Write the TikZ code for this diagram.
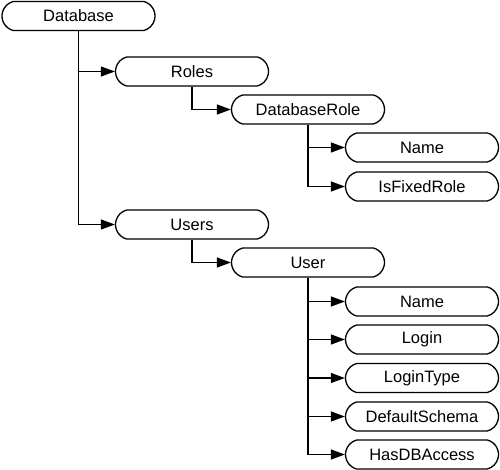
\documentclass[tikz,border=0pt]{standalone}
\usepackage{fontspec}
\setsansfont{Liberation Sans}
\usetikzlibrary{shapes.misc,arrows.meta}

\begin{document}
\begin{tikzpicture}[x=1pt, y=-1pt, font=\sffamily\fontsize{16.5}{18}\selectfont,
    item/.style={draw, line width=1.3pt, rounded rectangle, rounded rectangle arc length=150,
        minimum width=153pt, minimum height=29pt, inner sep=0pt},
    link/.style={line width=1.3pt, -{Triangle[length=14pt,width=10pt]}}]
        \useasboundingbox (0,0) rectangle (500,470);
        % tree levels
        \node[item] (db) at (78.5,16) {Database};
        \node[item] (roles) at (192,71.5) {Roles};
        \node[item] (dbrole) at (308,109.5) {DatabaseRole};
        \node[item] (users) at (192,224.5) {Users};
        \node[item] (user) at (308,262.5) {User};
        \draw[link] (db.south) |- (roles.west);
        \draw[link] (db.south) |- (users.west);
        \draw[link] (roles.south) |- (dbrole.west);
        \draw[link] (users.south) |- (user.west);
        % leaves
        \foreach \y/\name/\lbl in {147.5/rname/Name,186.5/fixed/IsFixedRole}{
            \node[item] (\name) at (422,\y) {\lbl};
            \draw[link] (dbrole.south) |- (\name.west);}
        \foreach \y/\name/\lbl in {301.5/uname/Name,339.5/login/Login,378/ltype/LoginType,416.5/schema/DefaultSchema,454.5/access/HasDBAccess}{
            \node[item] (\name) at (422,\y) {\lbl};
            \draw[link] (user.south) |- (\name.west);}
    \end{tikzpicture}
\end{document}
